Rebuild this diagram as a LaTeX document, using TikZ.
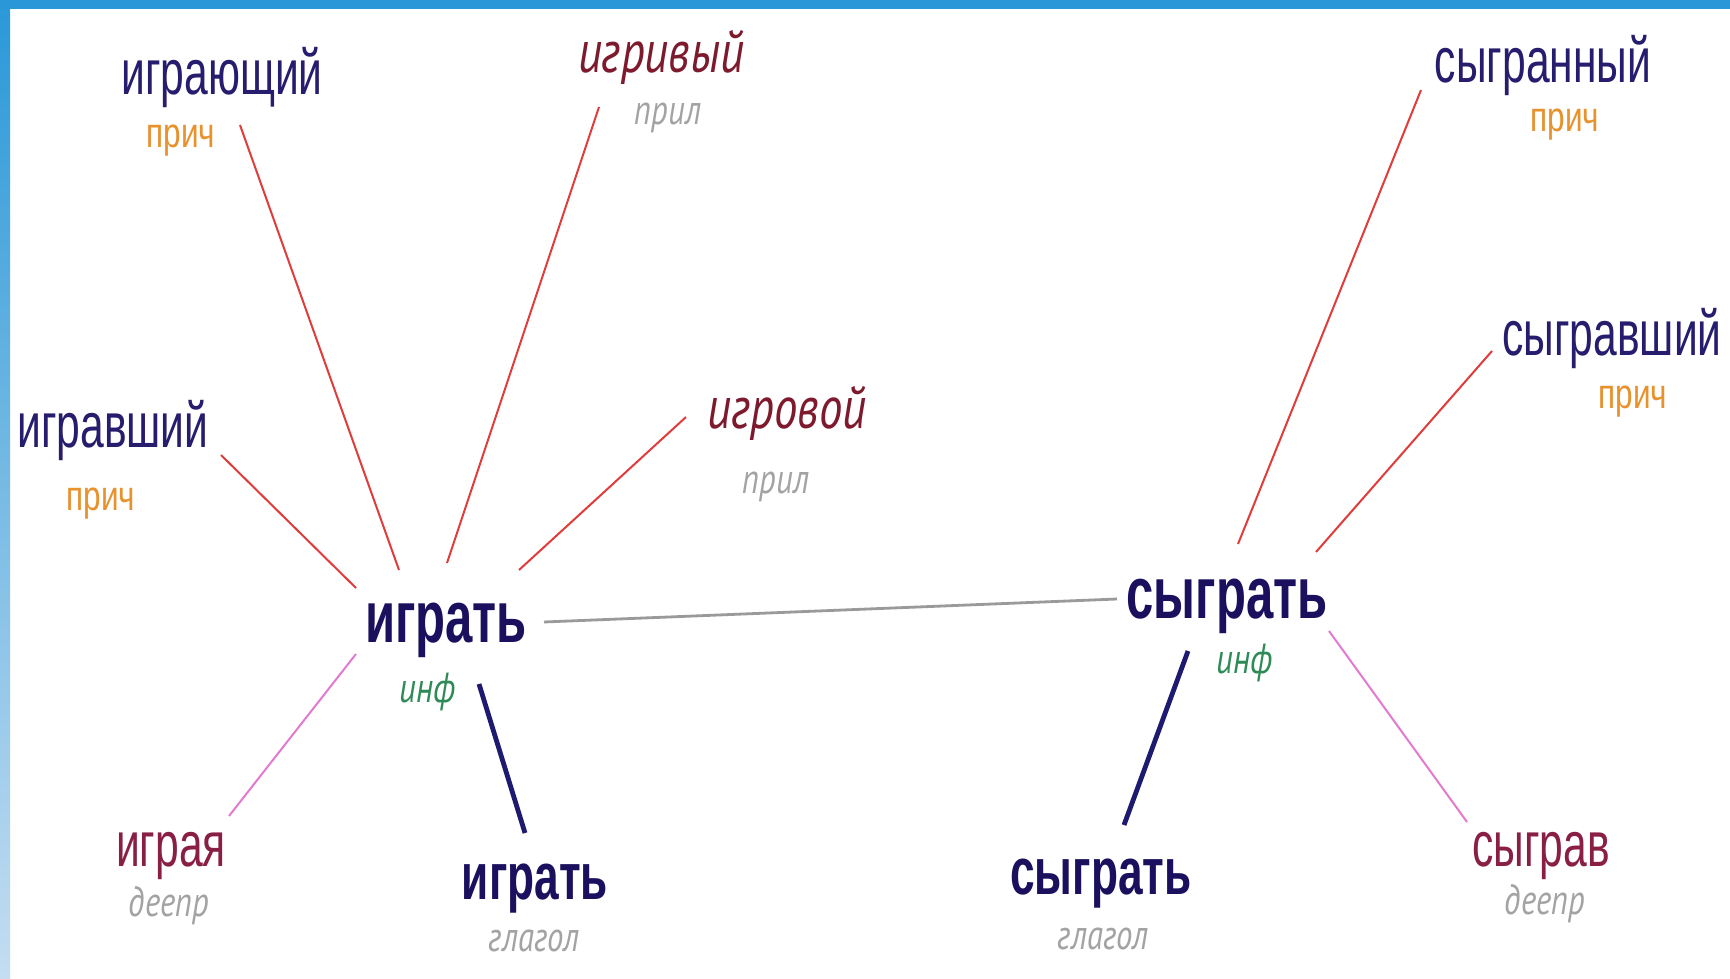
\documentclass[tikz,border=0pt]{standalone}
\usepackage{fontspec}
\setmainfont{Liberation Sans}
\newfontfamily\wordfont[FakeStretch=0.67]{Liberation Sans}
\newfontfamily\labfont[FakeStretch=0.75]{Liberation Sans}
\newfontfamily\itfont[FakeStretch=0.78]{PT Sans}
\definecolor{wordblue}{HTML}{261D6E}
\definecolor{hubblue}{HTML}{1A105E}
\definecolor{maroon}{HTML}{7D1A2E}
\definecolor{gerund}{HTML}{8A1F45}
\definecolor{prichor}{HTML}{E8922E}
\definecolor{labgray}{HTML}{A3A3A3}
\definecolor{infgreen}{HTML}{2E8B57}
\definecolor{redln}{HTML}{E03C3C}
\definecolor{pinkln}{HTML}{E27BD0}
\definecolor{thickln}{HTML}{1E1A70}
\definecolor{grayln}{HTML}{9A9A9A}
\definecolor{bandtop}{HTML}{2A98D8}
\definecolor{bandbot}{HTML}{C4DDF1}
\tikzset{
  every node/.style={inner sep=0pt, outer sep=0pt, anchor=base},
  word/.style={font=\wordfont\fontsize{31.8}{36}\selectfont, text=wordblue},
  hub/.style={font=\wordfont\bfseries\fontsize{36.6}{40}\selectfont, text=hubblue},
  verb/.style={font=\wordfont\bfseries\fontsize{33}{38}\selectfont, text=hubblue},
  gerundw/.style={font=\wordfont\fontsize{31.8}{36}\selectfont, text=gerund},
  adjw/.style={font=\itfont\itshape\fontsize{30}{34}\selectfont, text=maroon},
  prichlab/.style={font=\labfont\fontsize{21}{24}\selectfont, text=prichor},
  graylab/.style={font=\itfont\itshape\fontsize{21}{24}\selectfont, text=labgray},
  inflab/.style={font=\itfont\itshape\fontsize{21}{24}\selectfont, text=infgreen},
  redline/.style={draw=redln, line width=1pt},
  pinkline/.style={draw=pinkln, line width=1pt},
  thickline/.style={draw=thickln, line width=2.4pt},
  grayline/.style={draw=grayln, line width=1.4pt},
}
\begin{document}
\begin{tikzpicture}[x=0.5pt, y=-0.5pt]
\useasboundingbox (0,0) rectangle (1730,979);
\fill[white] (0,0) rectangle (1730,979);
% frame bands
\shade[top color=bandtop, bottom color=bandbot] (0,0) rectangle (10,979);
\fill[bandtop] (0,0) rectangle (1730,9);

% --- left cluster: words
\node[word] (igrayushchiy) at (222,95) {играющий};
\node[prichlab] (prichA) at (181,148) {прич};
\node[adjw] (igrivyy) at (661,73) {игривый};
\node[graylab] (prilA) at (668,125) {прил};
\node[word] (igravshiy) at (113,447) {игравший};
\node[prichlab] (prichB) at (101,510) {прич};
\node[adjw] (igrovoy) at (787,428) {игровой};
\node[graylab] (prilB) at (776,493) {прил};
\node[hub] (igrat) at (446,642) {играть};
\node[inflab] (infA) at (428,702) {инф};
\node[gerundw] (igraya) at (171,866) {играя};
\node[graylab] (deeprA) at (169,916) {деепр};
\node[verb] (igratV) at (535,899) {играть};
\node[graylab] (glagolA) at (534,951) {глагол};

% --- right cluster: words
\node[hub] (sygrat) at (1227,618) {сыграть};
\node[inflab] (infB) at (1245,673) {инф};
\node[verb] (sygratV) at (1101,894) {сыграть};
\node[graylab] (glagolB) at (1103,949) {глагол};
\node[gerundw] (sygrav) at (1541,866) {сыграв};
\node[graylab] (deeprB) at (1545,914) {деепр};
\node[word] (sygrannyy) at (1543,83) {сыгранный};
\node[prichlab] (prichC) at (1565,132) {прич};
\node[word] (sygravshiy) at (1612,355) {сыгравший};
\node[prichlab] (prichD) at (1633,408) {прич};

% --- connector end points
\coordinate (igrayushchiy-e) at (240,125);
\coordinate (igrat-nw) at (399,570);
\coordinate (igrivyy-e) at (599,107);
\coordinate (igrat-n) at (447,563);
\coordinate (igravshiy-e) at (221,455);
\coordinate (igrat-w) at (356,588);
\coordinate (igrovoy-e) at (686,417);
\coordinate (igrat-ne) at (519,570);
\coordinate (igrat-sw) at (356,654);
\coordinate (igraya-e) at (229,816);
\coordinate (igrat-se) at (479,684);
\coordinate (igratV-e) at (525,833);
\coordinate (igrat-east) at (544,622);
\coordinate (sygrat-west) at (1117,599);
\coordinate (sygrannyy-e) at (1421,90);
\coordinate (sygrat-n) at (1238,544);
\coordinate (sygravshiy-e) at (1492,351);
\coordinate (sygrat-ne) at (1316,552);
\coordinate (sygrat-sw) at (1188,651);
\coordinate (sygratV-e) at (1124,825);
\coordinate (sygrat-se) at (1329,631);
\coordinate (sygrav-e) at (1467,822);

% --- connectors
\draw[redline] (igrayushchiy-e) -- (igrat-nw);
\draw[redline] (igrivyy-e) -- (igrat-n);
\draw[redline] (igravshiy-e) -- (igrat-w);
\draw[redline] (igrovoy-e) -- (igrat-ne);
\draw[pinkline] (igrat-sw) -- (igraya-e);
\draw[thickline] (igrat-se) -- (igratV-e);
\draw[grayline] (igrat-east) -- (sygrat-west);
\draw[redline] (sygrannyy-e) -- (sygrat-n);
\draw[redline] (sygravshiy-e) -- (sygrat-ne);
\draw[thickline] (sygrat-sw) -- (sygratV-e);
\draw[pinkline] (sygrat-se) -- (sygrav-e);
\end{tikzpicture}
\end{document}
